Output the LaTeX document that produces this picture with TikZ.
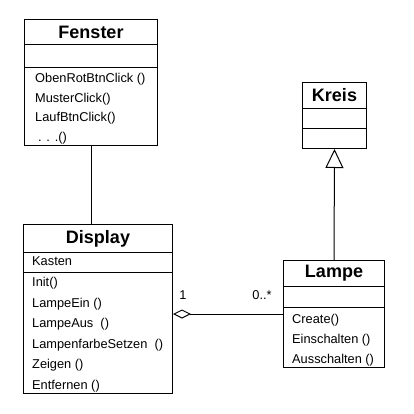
\documentclass[tikz,border=0pt]{standalone}
\usepackage{fontspec}
\setmainfont{Liberation Sans}
\usetikzlibrary{arrows.meta, positioning}

\begin{document}
\begin{tikzpicture}[x=1pt,y=-1pt,
    comp/.style={draw,line width=1pt,inner sep=0pt,anchor=north west},
    titel/.style={font=\fontsize{18}{21}\selectfont\bfseries},
    op/.style={anchor=base west,inner sep=0pt,font=\fontsize{12.8}{15}\selectfont},
    mult/.style={inner sep=0pt,font=\fontsize{12.8}{15}\selectfont}]
\useasboundingbox (0,0) rectangle (414,414);
% Fenster
\node[comp,titel,minimum width=133pt,minimum height=25pt] (fenstertitle) at (24,19) {Fenster};
\node[comp,minimum width=133pt,minimum height=23pt] (fensterattr) at (24,44) {};
\node[comp,minimum width=133pt,minimum height=78pt] (fenstermeth) at (24,67) {};
\node[op] (fobenrot) at (35,82.5) {ObenRotBtnClick ()};
\node[op] (fmuster) at (35,102.5) {MusterClick()};
\node[op] (flauf) at (35,121.5) {LaufBtnClick()};
\node[op] (fpunkte) at (38,142) {. . .()};
% Display
\node[comp,titel,minimum width=149pt,minimum height=28pt] (displaytitle) at (23,224) {Display};
\node[comp,minimum width=149pt,minimum height=20pt] (displayattr) at (23,252) {};
\node[comp,minimum width=149pt,minimum height=121pt] (displaymeth) at (23,272) {};
\node[op] (dkasten) at (32,265) {Kasten};
\node[op] (dinit) at (32,286.5) {Init()};
\node[op] (dein) at (32,307.5) {LampeEin ()};
\node[op] (daus) at (32,327.5) {LampeAus\ \ ()};
\node[op] (dfarbe) at (32,348) {LampenfarbeSetzen\ \ ()};
\node[op] (dzeigen) at (32,368.5) {Zeigen ()};
\node[op] (dentf) at (32,389.5) {Entfernen ()};
% Kreis
\node[comp,titel,minimum width=64pt,minimum height=26pt] (kreistitle) at (302,82) {Kreis};
\node[comp,minimum width=64pt,minimum height=20pt] (kreisattr) at (302,108) {};
\node[comp,minimum width=64pt,minimum height=20pt] (kreismeth) at (302,128) {};
% Lampe
\node[comp,titel,minimum width=101pt,minimum height=26pt] (lampetitle) at (283,260) {Lampe};
\node[comp,minimum width=101pt,minimum height=21pt] (lampeattr) at (283,286) {};
\node[comp,minimum width=101pt,minimum height=60pt] (lampemeth) at (283,307) {};
\node[op] (lcreate) at (292,323) {Create()};
\node[op] (lein) at (292,343) {Einschalten ()};
\node[op] (laus) at (292,363) {Ausschalten ()};
% Beziehungen
\draw[line width=1pt] (fenstermeth.south) -- (fenstermeth.south |- displaytitle.north);
\draw[line width=1pt,-{Triangle[open,length=19pt,width=18pt]}] (lampetitle.north) -- (kreismeth.south);
\coordinate (agg) at (0,314);
\draw[line width=1pt,{Diamond[open,length=18pt,width=9pt]}-] (displaymeth.east |- agg) -- (lampemeth.west |- agg);
\node[mult] (einsmult) at (183,295) {1};
\node[mult] (vielmult) at (262,295) {0..*};
\end{tikzpicture}
\end{document}
